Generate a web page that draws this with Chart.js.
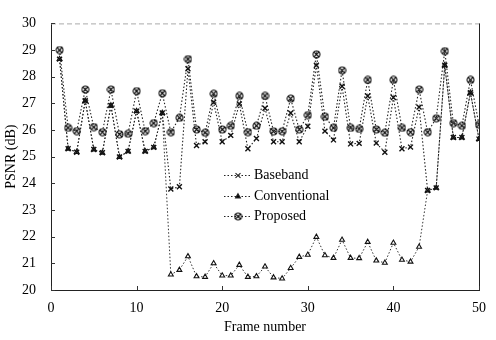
<!DOCTYPE html>
<html>
<head>
<meta charset="utf-8">
<script src="https://cdn.jsdelivr.net/npm/chart.js@4.4.0/dist/chart.umd.min.js"></script>
<style>
html, body { margin: 0; padding: 0; background: #fff; }
#wrap { position: relative; width: 496px; height: 340px; }
</style>
</head>
<body>
<div id="wrap"><canvas id="mycanvas" width="496" height="340"></canvas></div>
<script>
// frame numbers
var frames = [1,2,3,4,5,6,7,8,9,10,11,12,13,14,15,16,17,18,19,20,21,22,23,24,25,
	26,27,28,29,30,31,32,33,34,35,36,37,38,39,40,41,42,43,44,45,46,47,48,49,50];

// PSNR values (dB)
var baseband = [28.66,25.30,25.17,27.10,25.27,25.15,26.92,24.99,25.20,26.71,
	25.20,25.35,26.64,23.79,23.87,28.30,25.42,25.56,27.04,25.56,
	25.80,26.98,25.30,25.68,26.82,25.56,25.56,26.64,25.56,26.14,
	28.43,25.96,25.63,27.64,25.48,25.50,27.28,25.51,25.17,27.22,
	25.30,25.36,26.86,23.73,23.83,28.43,25.72,25.72,27.40,25.66];

var conventional = [28.66,25.30,25.17,27.10,25.27,25.15,26.92,24.99,25.20,26.71,
	25.20,25.35,26.64,20.58,20.75,21.26,20.51,20.49,21.00,20.54,
	20.54,20.94,20.49,20.51,20.88,20.47,20.43,20.82,21.24,21.32,
	21.99,21.30,21.20,21.88,21.20,21.19,21.80,21.10,21.02,21.77,
	21.13,21.06,21.62,23.73,23.83,28.43,25.72,25.72,27.40,25.66];

var proposed = [29.00,26.08,25.96,27.52,26.11,25.92,27.52,25.84,25.86,27.46,
	25.96,26.26,27.38,25.92,26.46,28.66,26.02,25.90,27.36,26.02,
	26.16,27.28,25.92,26.16,27.28,25.95,25.95,27.18,26.02,26.56,
	28.84,26.50,26.08,28.24,26.08,26.04,27.88,26.02,25.90,27.88,
	26.08,25.92,27.52,25.92,26.44,28.96,26.26,26.16,27.88,26.20];

var xTicks = [0,10,20,30,40,50];
var yTicks = [20,21,22,23,24,25,26,27,28,29,30];

var serif = '"Liberation Serif", "DejaVu Serif", serif';

function points(vals) {
	var out = [];
	for (var i = 0; i < frames.length; i++) out.push({x: frames[i], y: vals[i]});
	return out;
}

// circled x marker for "Proposed"
function circledX() {
	var c = document.createElement('canvas');
	c.width = 9; c.height = 9;
	var g = c.getContext('2d');
	g.strokeStyle = '#111';
	g.lineWidth = 1.1;
	g.beginPath(); g.arc(4.5, 4.5, 3.5, 0, Math.PI * 2); g.stroke();
	g.beginPath();
	g.moveTo(2, 2); g.lineTo(7, 7);
	g.moveTo(7, 2); g.lineTo(2, 7);
	g.stroke();
	return c;
}
var propMarker = circledX();

var frame = {
	id: 'frame',
	afterDraw: function(chart) {
		var ctx = chart.ctx, a = chart.chartArea;
		var xs = chart.scales.x, ys = chart.scales.y;
		ctx.save();
		ctx.strokeStyle = '#222';
		ctx.lineWidth = 1;
		// right border
		ctx.beginPath(); ctx.moveTo(a.right + 0.5, a.top); ctx.lineTo(a.right + 0.5, a.bottom); ctx.stroke();
		// top border, faint and broken
		ctx.strokeStyle = '#aaa';
		ctx.setLineDash([5, 3]);
		ctx.beginPath(); ctx.moveTo(a.left, a.top + 0.5); ctx.lineTo(a.right, a.top + 0.5); ctx.stroke();
		ctx.setLineDash([]);
		ctx.strokeStyle = '#333';
		// inward ticks
		for (var i = 0; i < yTicks.length; i++) {
			var py = Math.round(ys.getPixelForValue(yTicks[i])) + 0.5;
			ctx.beginPath(); ctx.moveTo(a.left, py); ctx.lineTo(a.left + 4, py); ctx.stroke();
		}
		for (var j = 0; j < xTicks.length; j++) {
			var px = Math.round(xs.getPixelForValue(xTicks[j])) + 0.5;
			ctx.beginPath(); ctx.moveTo(px, a.bottom); ctx.lineTo(px, a.bottom - 4); ctx.stroke();
		}
		// legend inside the plot
		var rows = [175, 196, 216];
		var ds = chart.data.datasets;
		ctx.font = '14px ' + serif;
		ctx.textBaseline = 'middle';
		ctx.fillStyle = '#000';
		for (var k = 0; k < ds.length; k++) {
			var y = rows[k] + 0.5;
			ctx.strokeStyle = '#222';
			ctx.lineWidth = 1.1;
			ctx.setLineDash([1.5, 2]);
			ctx.beginPath(); ctx.moveTo(224, y); ctx.lineTo(252, y); ctx.stroke();
			ctx.setLineDash([]);
			Chart.helpers.drawPoint(ctx, {
				pointStyle: ds[k].pointStyle, radius: ds[k].pointRadius,
				borderWidth: ds[k].pointBorderWidth, rotation: 0
			}, 238, y);
			ctx.fillText(ds[k].label, 254, rows[k]);
		}
		ctx.restore();
	}
};

var chartdata = {
	datasets: [
		{
			label: 'Baseband',
			data: points(baseband),
			borderColor: '#222',
			borderWidth: 1.1,
			borderDash: [1.5, 2],
			pointStyle: 'crossRot',
			pointRadius: 3.5,
			pointBorderWidth: 1.4,
			pointBorderColor: '#111',
			pointBackgroundColor: '#111'
		},
		{
			label: 'Conventional',
			data: points(conventional),
			borderColor: '#333',
			borderWidth: 1,
			borderDash: [1.5, 2],
			pointStyle: 'triangle',
			pointRadius: 2.8,
			pointBorderWidth: 1.1,
			pointBorderColor: '#111',
			pointBackgroundColor: '#fff'
		},
		{
			label: 'Proposed',
			data: points(proposed),
			borderColor: '#222',
			borderWidth: 1.1,
			borderDash: [1.5, 2],
			pointStyle: propMarker,
			pointRadius: 3.5,
			pointBorderWidth: 1.1,
			pointBorderColor: '#111',
			pointBackgroundColor: '#fff'
		}
	]
};

var ctx = document.getElementById('mycanvas');
var lineGraph = new Chart(ctx, {
	type: 'line',
	data: chartdata,
	plugins: [frame],
	options: {
		responsive: false,
		animation: false,
		layout: { padding: { top: 13, right: 8, left: 0, bottom: 0 } },
		plugins: { legend: { display: false }, tooltip: { enabled: false } },
		scales: {
			x: {
				type: 'linear', min: 0, max: 50,
				afterFit: function(s) { s.height = 50; },
				afterBuildTicks: function(s) { s.ticks = xTicks.map(function(v) { return {value: v}; }); },
				grid: { display: false, drawTicks: false },
				border: { display: true, color: '#222', width: 1 },
				ticks: { color: '#000', font: { family: serif, size: 14 }, padding: 10, maxRotation: 0 },
				title: { display: true, text: 'Frame number', color: '#000',
					font: { family: serif, size: 14 }, padding: { top: 0, bottom: 4 } }
			},
			y: {
				min: 20, max: 30,
				afterFit: function(s) { s.width = 51; },
				afterBuildTicks: function(s) { s.ticks = yTicks.map(function(v) { return {value: v}; }); },
				grid: { display: false, drawTicks: false },
				border: { display: true, color: '#222', width: 1 },
				ticks: { color: '#000', font: { family: serif, size: 14 }, padding: 15 },
				title: { display: true, text: 'PSNR (dB)', color: '#000',
					font: { family: serif, size: 14 }, padding: { top: 3, bottom: 0 } }
			}
		}
	}
});
</script>
</body>
</html>
